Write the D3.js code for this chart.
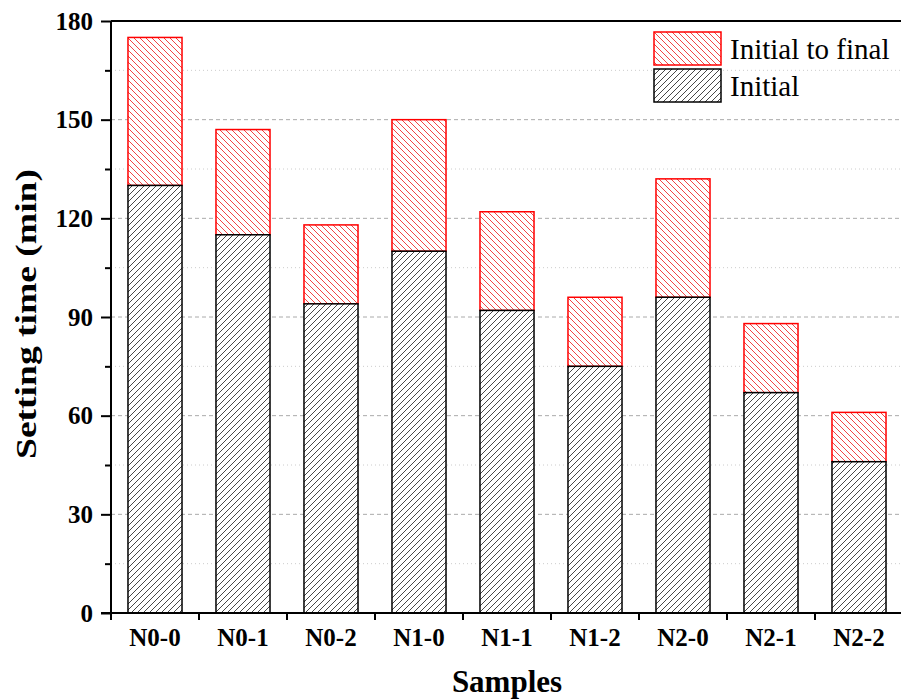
<!DOCTYPE html>
<html>
<head>
<meta charset="utf-8">
<script src="https://cdn.jsdelivr.net/npm/d3@7"></script>
<style>
  body { margin: 0; background: #fff; }
  svg text { font-family: "Times New Roman", "Liberation Serif", "DejaVu Serif", serif !important; }
</style>
</head>
<body>
<div id="chart"></div>
<script>
// data
var samples = ["N0-0", "N0-1", "N0-2", "N1-0", "N1-1", "N1-2", "N2-0", "N2-1", "N2-2"];
var initialTime = [130, 115, 94, 110, 92, 75, 96, 67, 46];
var finalTime = [175, 147, 118, 150, 122, 96, 132, 88, 61];
var yTicks = [0, 30, 60, 90, 120, 150, 180];
var yMinor = [15, 45, 75, 105, 135, 165];

var width = 901, height = 699;
var margin = {top: 21, left: 111, bottom: 86};
var bandW = 88;
var plotW = bandW * samples.length;
var plotH = height - margin.top - margin.bottom;
var serif = "'Times New Roman', 'Liberation Serif', serif";

var svg = d3.select("#chart").append("svg")
    .attr("width", width)
    .attr("height", height)
    .attr("font-family", serif);

var defs = svg.append("defs");
function hatch(id, color, dir) {
    var p = defs.append("pattern")
        .attr("id", id)
        .attr("patternUnits", "userSpaceOnUse")
        .attr("width", 6).attr("height", 6);
    p.append("rect").attr("width", 6).attr("height", 6).attr("fill", "#fff");
    var d = dir > 0 ? "M-1,1 l2,-2 M0,6 l6,-6 M5,7 l2,-2" : "M-1,5 l2,2 M0,0 l6,6 M5,-1 l2,2";
    p.append("path").attr("d", d).attr("stroke", color).attr("stroke-width", 0.9);
}
hatch("hatchBlack", "#333", 1);
hatch("hatchRed", "#f03030", -1);

var g = svg.append("g").attr("transform", "translate(" + margin.left + "," + margin.top + ")");

var x = d3.scaleBand().domain(samples).range([0, plotW]).paddingInner(0.386).paddingOuter(0.193);
var y = d3.scaleLinear().domain([0, 180]).range([plotH, 0]);

// grid
g.selectAll(".gmaj").data(yTicks.filter(function (d) { return d > 0 && d < 180; })).enter()
    .append("line")
    .attr("x1", 0).attr("x2", plotW)
    .attr("y1", function (d) { return y(d); }).attr("y2", function (d) { return y(d); })
    .attr("stroke", "#aaa").attr("stroke-width", 1).attr("stroke-dasharray", "4,3");
g.selectAll(".gmin").data(yMinor).enter()
    .append("line")
    .attr("x1", 0).attr("x2", plotW)
    .attr("y1", function (d) { return y(d); }).attr("y2", function (d) { return y(d); })
    .attr("stroke", "#ccc").attr("stroke-width", 1).attr("stroke-dasharray", "1,3");

// bars
var idx = d3.range(samples.length);
g.selectAll(".top").data(idx).enter().append("rect")
    .attr("x", function (i) { return x(samples[i]); })
    .attr("y", function (i) { return y(finalTime[i]); })
    .attr("width", x.bandwidth())
    .attr("height", function (i) { return y(initialTime[i]) - y(finalTime[i]); })
    .attr("fill", "url(#hatchRed)").attr("stroke", "#f00").attr("stroke-width", 1.5);
g.selectAll(".bot").data(idx).enter().append("rect")
    .attr("x", function (i) { return x(samples[i]); })
    .attr("y", function (i) { return y(initialTime[i]); })
    .attr("width", x.bandwidth())
    .attr("height", function (i) { return plotH - y(initialTime[i]); })
    .attr("fill", "url(#hatchBlack)").attr("stroke", "#000").attr("stroke-width", 1.5);

// y axis
var yAxis = g.append("g").call(d3.axisLeft(y).tickValues(yTicks).tickSize(10).tickPadding(8));
yAxis.attr("font-family", serif);
yAxis.selectAll("text").attr("font-size", 25).attr("font-weight", "bold").attr("fill", "#000");
yAxis.select(".domain").attr("stroke-width", 2).attr("d", "M0," + plotH + "V0");
yAxis.selectAll(".tick line").attr("stroke-width", 2);
g.append("g").call(d3.axisLeft(y).tickValues(yMinor).tickSize(6).tickFormat(""))
    .call(function (a) { a.select(".domain").remove(); a.selectAll("line").attr("stroke-width", 2); });

// x axis
var xAxis = g.append("g").attr("transform", "translate(0," + plotH + ")")
    .call(d3.axisBottom(x).tickSize(0).tickPadding(15));
xAxis.attr("font-family", serif);
xAxis.select(".domain").attr("stroke-width", 2).attr("d", "M-10,0H" + plotW);
xAxis.selectAll("text").attr("font-size", 25).attr("font-weight", "bold").attr("fill", "#000");
g.selectAll(".xt").data(d3.range(samples.length + 1)).enter().append("line")
    .attr("x1", function (i) { return i * bandW; }).attr("x2", function (i) { return i * bandW; })
    .attr("y1", plotH).attr("y2", plotH + 7)
    .attr("stroke", "#000").attr("stroke-width", 2);

// top border
g.append("line").attr("x1", 0).attr("x2", plotW).attr("y1", 0).attr("y2", 0)
    .attr("stroke", "#000").attr("stroke-width", 2);

// titles
svg.append("text")
    .attr("transform", "translate(36," + (margin.top + plotH / 2 - 3) + ") rotate(-90)")
    .attr("text-anchor", "middle")
    .attr("font-size", 30).attr("font-weight", "bold")
    .attr("textLength", 290).attr("lengthAdjust", "spacingAndGlyphs")
    .text("Setting time (min)");
svg.append("text")
    .attr("x", 507).attr("y", 692)
    .attr("text-anchor", "middle")
    .attr("font-size", 31).attr("font-weight", "bold")
    .text("Samples");

// legend
var legend = [{label: "Initial to final", fill: "url(#hatchRed)", stroke: "#f00"},
              {label: "Initial", fill: "url(#hatchBlack)", stroke: "#000"}];
var lg = svg.selectAll(".lg").data(legend).enter().append("g")
    .attr("transform", function (d, i) { return "translate(654," + (32 + i * 37) + ")"; });
lg.append("rect").attr("width", 67).attr("height", 33)
    .attr("fill", function (d) { return d.fill; })
    .attr("stroke", function (d) { return d.stroke; }).attr("stroke-width", 1.5);
lg.append("text").attr("x", 76).attr("y", 27)
    .attr("font-size", 29)
    .text(function (d) { return d.label; });
</script>
</body>
</html>
